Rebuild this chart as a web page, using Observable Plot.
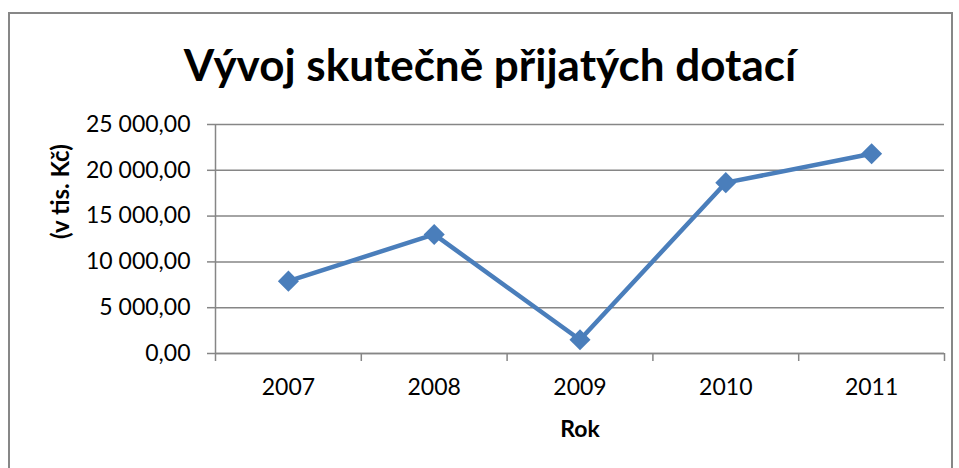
<!DOCTYPE html>
<html>
<head>
<meta charset="utf-8">
<script src="https://cdn.jsdelivr.net/npm/d3@7"></script>
<script src="https://cdn.jsdelivr.net/npm/@observablehq/plot@0.6"></script>
<style>
  html, body { margin: 0; padding: 0; background: #fff; }
  #wrap { position: relative; width: 959px; height: 468px; overflow: hidden; font-family: Lato, "Open Sans", sans-serif; }
  #frame { position: absolute; left: 8px; top: 12px; width: 945px; height: 500px; border: 2.5px solid #878787; box-sizing: border-box; }
  #chart { position: absolute; left: 0; top: 0; }
</style>
</head>
<body>
<div id="wrap"><div id="frame"></div><div id="chart"></div></div>
<script>
const title = "Vývoj skutečně přijatých dotací";
const yLabel = "(v tis. Kč)";
const xLabel = "Rok";
const years = ["2007", "2008", "2009", "2010", "2011"];
const values = [7900, 13000, 1500, 18650, 21800];
const yTicks = [0, 5000, 10000, 15000, 20000, 25000];

const data = years.map((year, i) => ({i, year, value: values[i]}));
const locale = d3.formatLocale({decimal: ",", thousands: "\u00a0", grouping: [3], currency: ["", " Kč"]});
const fmt = locale.format(",.2f");
const gray = "#868686";
const blue = "#4a7ebb";
const centers = d3.range(years.length);
const bounds = d3.range(years.length + 1).map(k => k - 0.5);

const chart = Plot.plot({
  width: 959,
  height: 468,
  marginLeft: 215,
  marginRight: 15,
  marginTop: 124,
  marginBottom: 115,
  style: {fontFamily: "Lato, 'Open Sans', sans-serif", background: "transparent"},
  x: {type: "linear", domain: [-0.5, years.length - 0.5]},
  y: {domain: [0, 25000]},
  marks: [
    Plot.gridY(yTicks, {stroke: gray, strokeOpacity: 1, strokeWidth: 1.5}),
    Plot.axisY(yTicks, {tickSize: 8, tickPadding: 17, tickFormat: fmt, fontSize: 23, stroke: gray, strokeWidth: 1.5, fill: "#000", label: null}),
    Plot.ruleY([0], {stroke: gray, strokeWidth: 1.5}),
    Plot.ruleX([-0.5], {stroke: gray, strokeWidth: 1.5}),
    Plot.axisX(bounds, {tickSize: 8, tickFormat: () => "", stroke: gray, strokeWidth: 1.5, label: null}),
    Plot.axisX(centers, {tickSize: 0, tickPadding: 25, tickFormat: k => years[k], fontSize: 23, fill: "#000", label: null}),
    Plot.line(data, {x: "i", y: "value", stroke: blue, strokeWidth: 4.5}),
    Plot.dot(data, {x: "i", y: "value", symbol: "diamond2", r: 9.5, fill: blue, stroke: null}),
    Plot.text([title], {frameAnchor: "top", dx: -90, dy: -75, fontSize: 44, fontWeight: "bold", fill: "#000"}),
    Plot.text([yLabel], {frameAnchor: "left", dx: -154, rotate: -90, fontSize: 24, fontWeight: "bold", fill: "#000"}),
    Plot.text([xLabel], {frameAnchor: "bottom", dy: 83, fontSize: 23, fontWeight: "bold", fill: "#000"})
  ]
});
document.getElementById("chart").appendChild(chart);
</script>
</body>
</html>
